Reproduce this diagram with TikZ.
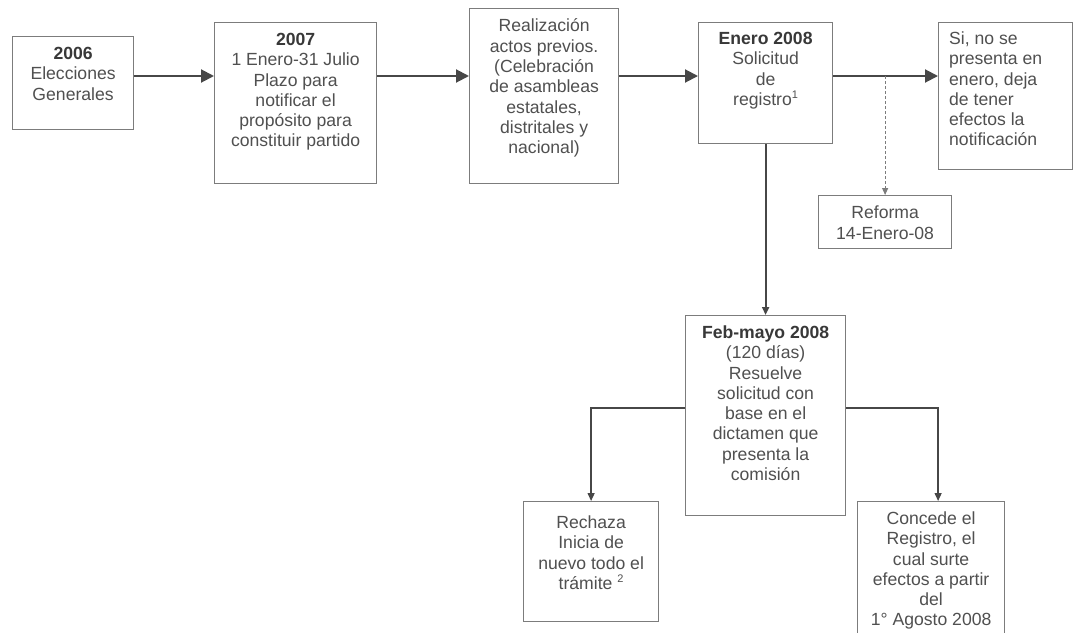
\documentclass[tikz,border=0pt]{standalone}
\usepackage{fontspec}
\setmainfont{Liberation Sans}
\usetikzlibrary{arrows.meta,calc}
\definecolor{txt}{HTML}{505050}
\definecolor{txtb}{HTML}{383838}
\definecolor{boxc}{HTML}{7C7C7C}
\definecolor{arrc}{HTML}{474747}
\tikzset{
  boxn/.style={draw=boxc, line width=1.2pt, inner sep=0pt, anchor=north west},
  lbl/.style={text=txt, inner sep=0pt, align=center, anchor=north,
    font=\fontsize{17.6}{20.3}\selectfont},
  lbll/.style={lbl, align=left, anchor=north west},
  bigarr/.style={draw=arrc, line width=2pt, -{Triangle[length=13pt,width=13pt]}},
  smallarr/.style={draw=arrc, line width=1.3pt, -{Triangle[length=8pt,width=7pt]}},
  dasharr/.style={draw=boxc, line width=1pt, dash pattern=on 3pt off 2pt, -{Triangle[length=7pt,width=6pt]}},
}
\newcommand{\hd}[1]{\textcolor{txtb}{\textbf{#1}}}
\newcommand{\supr}[1]{\raisebox{6.5pt}{\fontsize{11}{11}\selectfont #1}}
\begin{document}
\begin{tikzpicture}[x=1pt,y=-1pt]
\fill[white] (0,0) rectangle (1073,632);
\useasboundingbox (0,0) rectangle (1073,632);
% boxes
\node[boxn, minimum width=121pt, minimum height=93pt] (b1) at (12,36) {};
\node[boxn, minimum width=162pt, minimum height=161pt] (b2) at (214,22) {};
\node[boxn, minimum width=149pt, minimum height=175pt] (b3) at (469,8) {};
\node[boxn, minimum width=134pt, minimum height=121pt] (b4) at (698,22) {};
\node[boxn, minimum width=134pt, minimum height=147pt] (b5) at (938,22) {};
\node[boxn, minimum width=133pt, minimum height=53pt] (rf) at (818,195) {};
\node[boxn, minimum width=160pt, minimum height=200pt] (fb) at (685,315) {};
\node[boxn, minimum width=135pt, minimum height=120pt] (rc) at (523,501) {};
\node[boxn, minimum width=147pt, minimum height=140pt] (cc) at (857,501) {};
% texts
\node[lbl] (t1) at ([yshift=-9pt]b1.north) {\strut\hd{2006}\\Elecciones\\Generales};
\node[lbl] (t2) at ([yshift=-9pt]b2.north) {\strut\hd{2007}\\1 Enero-31 Julio\\Plazo para\\notificar el\\propósito para\\constituir partido};
\node[lbl] (t3) at ([yshift=-9.5pt]b3.north) {\strut Realización\\actos previos.\\(Celebración\\de asambleas\\estatales,\\distritales y\\nacional)};
\node[lbl] (t4) at ([yshift=-8pt]b4.north) {\strut\hd{Enero 2008}\\Solicitud\\de\\registro\supr{1}};
\node[lbll] (t5) at ([xshift=11pt,yshift=-8pt]b5.north west) {\strut Si, no se\\presenta en\\enero, deja\\de tener\\efectos la\\notificación};
\node[lbl] (t6) at ([yshift=-9.5pt]rf.north) {\strut Reforma\\14-Enero-08};
\node[lbl] (t7) at ([yshift=-9pt]fb.north) {\strut\hd{Feb-mayo 2008}\\(120 días)\\Resuelve\\solicitud con\\base en el\\dictamen que\\presenta la\\comisión};
\node[lbl] (t8) at ([yshift=-13pt]rc.north) {\strut Rechaza\\Inicia de\\nuevo todo el\\trámite \supr{2}};
\node[lbl] (t9) at ([yshift=-9pt]cc.north) {\strut Concede el\\Registro, el\\cual surte\\efectos a partir\\del\\1° Agosto 2008};
% connectors
\coordinate (row) at (0,76);
\coordinate (brow) at (0,408);
\draw[bigarr] (b1.east |- row) -- (b2.west |- row);
\draw[bigarr] (b2.east |- row) -- (b3.west |- row);
\draw[bigarr] (b3.east |- row) -- (b4.west |- row);
\draw[bigarr] (b4.east |- row) -- (b5.west |- row);
\coordinate (dtop) at (rf.north |- row);
\draw[dasharr] (dtop) -- (rf.north);
\draw[smallarr, line width=2pt] (b4.south) -- (fb.north);
\draw[smallarr] (fb.west |- brow) -| (rc.north);
\coordinate (ccin) at ([xshift=7pt]cc.north);
\draw[smallarr] (fb.east |- brow) -| (ccin);
\end{tikzpicture}
\end{document}
